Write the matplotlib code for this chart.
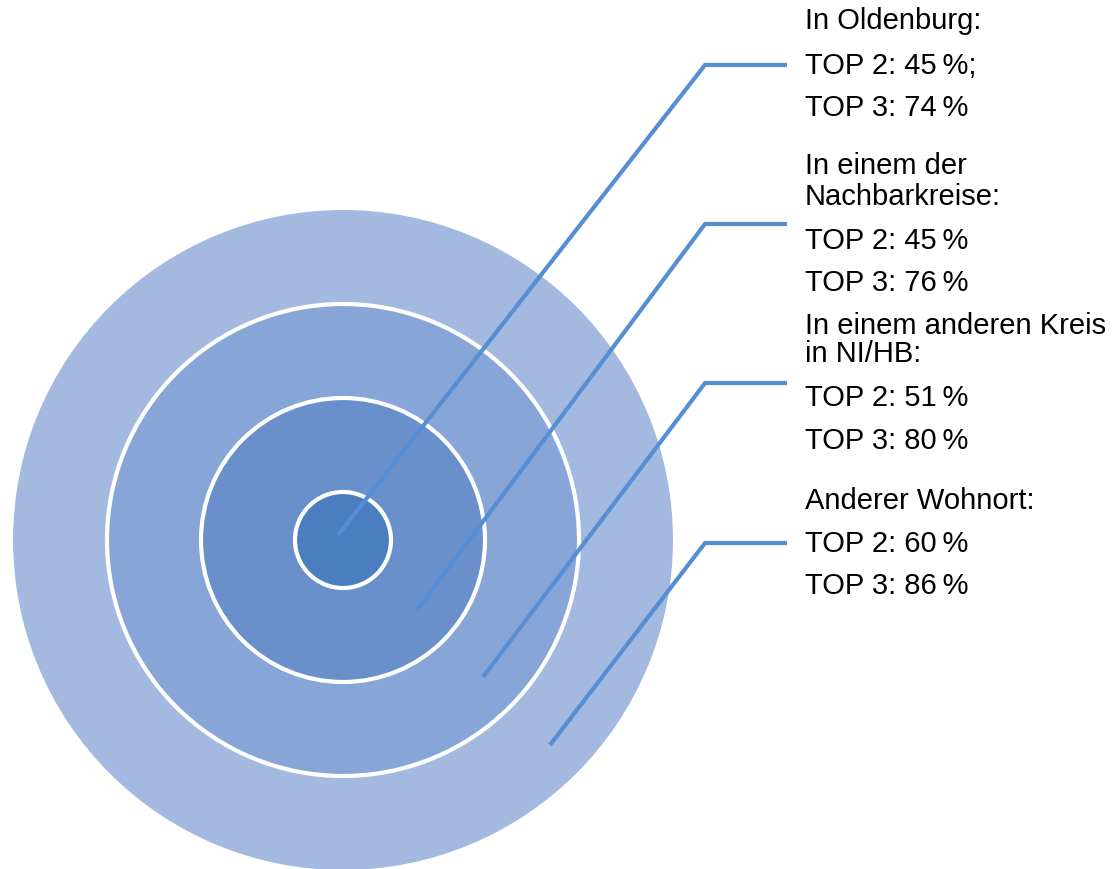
import matplotlib
matplotlib.use("Agg")
import matplotlib.pyplot as plt
from matplotlib.patches import Circle

# Data
group_labels = ["In Oldenburg:", "In einem der\nNachbarkreise:",
                "In einem anderen Kreis\nin NI/HB:", "Anderer Wohnort:"]
top2 = [45, 45, 51, 60]
top3 = [74, 76, 80, 86]
top2_suffix = [";", "", "", ""]

# Styling / layout
W, H = 1113, 869
cx, cy = 343, 540
radii = [330, 236, 142, 48]
fills = ["#A3B9E0", "#87A5D6", "#6990CA", "#4B7EC0"]
line_color = "#558ED5"
line_starts = [(338, 535), (417, 610), (483, 677), (550, 745)]
corner_x, end_x = 705, 787
corner_y = [65, 224, 383, 543]
# vertical centres of text rows per group
header_y = [[20], [165, 196], [325, 353], [500]]
top2_y = [65, 240, 397, 543]
top3_y = [107, 282, 440, 585]
text_x = 805

plt.rcParams['font.family'] = ['Liberation Sans', 'DejaVu Sans']

fig = plt.figure(figsize=(W / 100, H / 100), dpi=100)
ax = fig.add_axes([0, 0, 1, 1])
ax.set_xlim(0, W)
ax.set_ylim(H, 0)
ax.set_aspect('equal')
ax.axis('off')

for i, (r, c) in enumerate(zip(radii, fills)):
    ec = c if i == 0 else "white"
    lw = 0 if i == 0 else 3.0
    ax.add_patch(Circle((cx, cy), r, facecolor=c, edgecolor=ec, linewidth=lw, zorder=1 + i))

for (sx, sy), cyy in zip(line_starts, corner_y):
    ax.plot([sx, corner_x, end_x], [sy, cyy, cyy], color=line_color, lw=3.0,
            solid_capstyle='butt', solid_joinstyle='miter', zorder=10)

fs = 21
off = 9
for i, lab in enumerate(group_labels):
    for line, yy in zip(lab.split("\n"), header_y[i]):
        ax.text(text_x, yy + off, line, fontsize=fs, va='baseline', ha='left', color='black')
    ax.text(text_x, top2_y[i] + off, f"TOP 2: {top2[i]}\u2009%{top2_suffix[i]}",
            fontsize=fs, va='baseline', ha='left', color='black')
    ax.text(text_x, top3_y[i] + off, f"TOP 3: {top3[i]}\u2009%",
            fontsize=fs, va='baseline', ha='left', color='black')

fig.savefig("out.png", dpi=100)
